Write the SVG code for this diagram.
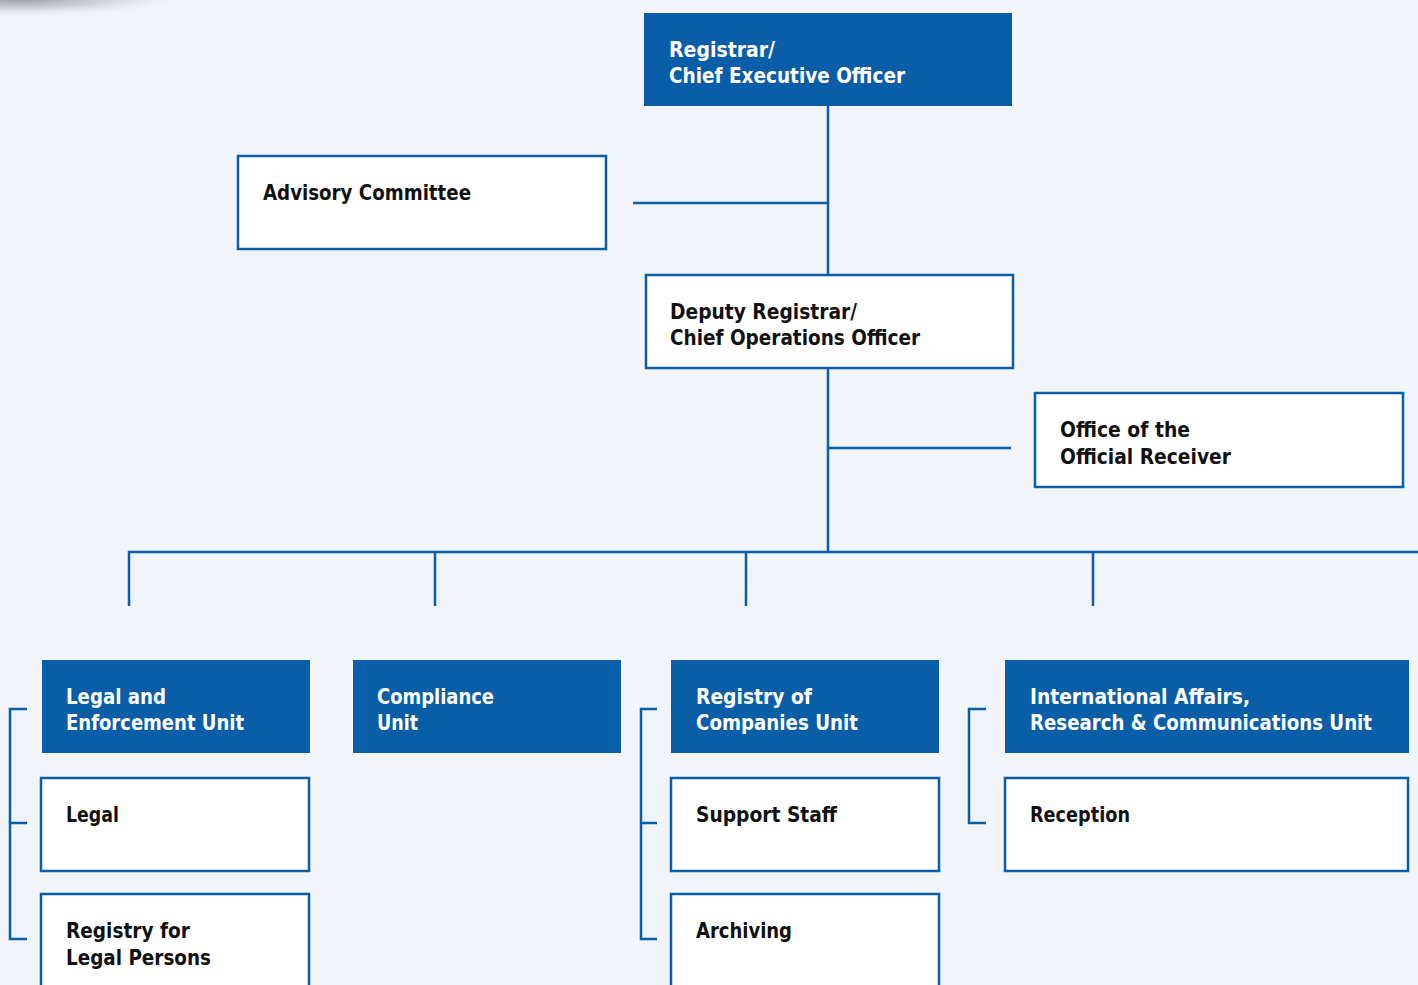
<svg xmlns="http://www.w3.org/2000/svg" width="1418" height="985" viewBox="0 0 1418 985">
<defs>
<radialGradient id="shadow" cx="0.5" cy="0.5" r="0.5">
<stop offset="0" stop-color="#8a8d92" stop-opacity="0.9"/>
<stop offset="0.5" stop-color="#a9acb0" stop-opacity="0.5"/>
<stop offset="1" stop-color="#f1f5f9" stop-opacity="0"/>
</radialGradient>
<style>
.bg{fill:#f1f5f9}
.blue{fill:#0a5ea8}
.white{fill:#ffffff;stroke:#0a5ea8;stroke-width:2.5}
.ln{stroke:#0a5ea8;stroke-width:2.5;fill:none}
.tw{fill:#ffffff;font-family:"Liberation Sans Narrow","DejaVu Sans Condensed","Liberation Sans",sans-serif;font-size:21px;font-weight:bold}
.tb{fill:#111111;font-family:"Liberation Sans Narrow","DejaVu Sans Condensed","Liberation Sans",sans-serif;font-size:21px;font-weight:bold}
</style>
</defs>
<rect class="bg" x="0" y="0" width="1418" height="985"/>
<ellipse cx="20" cy="-2" rx="170" ry="20" fill="url(#shadow)"/>

<g id="connectors">
<line class="ln" x1="828" y1="106" x2="828" y2="275"/>
<line class="ln" x1="633" y1="203" x2="829" y2="203"/>
<line class="ln" x1="828" y1="368" x2="828" y2="553"/>
<line class="ln" x1="828" y1="448" x2="1011" y2="448"/>
<line class="ln" x1="128" y1="552" x2="1418" y2="552"/>
<line class="ln" x1="129" y1="551" x2="129" y2="606"/>
<line class="ln" x1="435" y1="551" x2="435" y2="606"/>
<line class="ln" x1="746" y1="551" x2="746" y2="606"/>
<line class="ln" x1="1093" y1="551" x2="1093" y2="606"/>
<polyline class="ln" points="27,709 10,709 10,939 27,939"/>
<line class="ln" x1="10" y1="823" x2="27" y2="823"/>
<polyline class="ln" points="657,709 641,709 641,939 657,939"/>
<line class="ln" x1="641" y1="823" x2="657" y2="823"/>
<polyline class="ln" points="986,709 969,709 969,823 986,823"/>
</g>

<g id="ceo">
<rect class="blue" x="644" y="13" width="368" height="93"/>
<text class="tw" x="669" y="57" textLength="106" lengthAdjust="spacingAndGlyphs">Registrar/</text>
<text class="tw" x="669" y="83" textLength="236" lengthAdjust="spacingAndGlyphs">Chief Executive Officer</text>
</g>

<g id="advisory">
<rect class="white" x="238" y="156" width="368" height="93"/>
<text class="tb" x="263" y="200" textLength="208" lengthAdjust="spacingAndGlyphs">Advisory Committee</text>
</g>

<g id="deputy">
<rect class="white" x="646" y="275" width="367" height="93"/>
<text class="tb" x="670" y="319" textLength="187" lengthAdjust="spacingAndGlyphs">Deputy Registrar/</text>
<text class="tb" x="670" y="345" textLength="250" lengthAdjust="spacingAndGlyphs">Chief Operations Officer</text>
</g>

<g id="receiver">
<rect class="white" x="1035" y="393" width="368" height="94"/>
<text class="tb" x="1060" y="437" textLength="130" lengthAdjust="spacingAndGlyphs">Office of the</text>
<text class="tb" x="1060" y="464" textLength="171" lengthAdjust="spacingAndGlyphs">Official Receiver</text>
</g>

<g id="legal-enforcement">
<rect class="blue" x="42" y="660" width="268" height="93"/>
<text class="tw" x="66" y="704" textLength="100" lengthAdjust="spacingAndGlyphs">Legal and</text>
<text class="tw" x="66" y="730" textLength="178" lengthAdjust="spacingAndGlyphs">Enforcement Unit</text>
</g>

<g id="compliance">
<rect class="blue" x="353" y="660" width="268" height="93"/>
<text class="tw" x="377" y="704" textLength="117" lengthAdjust="spacingAndGlyphs">Compliance</text>
<text class="tw" x="377" y="730" textLength="41" lengthAdjust="spacingAndGlyphs">Unit</text>
</g>

<g id="registry-companies">
<rect class="blue" x="671" y="660" width="268" height="93"/>
<text class="tw" x="696" y="704" textLength="116" lengthAdjust="spacingAndGlyphs">Registry of</text>
<text class="tw" x="696" y="730" textLength="162" lengthAdjust="spacingAndGlyphs">Companies Unit</text>
</g>

<g id="international">
<rect class="blue" x="1005" y="660" width="404" height="93"/>
<text class="tw" x="1030" y="704" textLength="220" lengthAdjust="spacingAndGlyphs">International Affairs,</text>
<text class="tw" x="1030" y="730" textLength="342" lengthAdjust="spacingAndGlyphs">Research &amp; Communications Unit</text>
</g>

<g id="legal">
<rect class="white" x="41" y="778" width="268" height="93"/>
<text class="tb" x="66" y="822" textLength="53" lengthAdjust="spacingAndGlyphs">Legal</text>
</g>

<g id="registry-legal-persons">
<rect class="white" x="41" y="894" width="268" height="100"/>
<text class="tb" x="66" y="938" textLength="124" lengthAdjust="spacingAndGlyphs">Registry for</text>
<text class="tb" x="66" y="965" textLength="145" lengthAdjust="spacingAndGlyphs">Legal Persons</text>
</g>

<g id="support-staff">
<rect class="white" x="671" y="778" width="268" height="93"/>
<text class="tb" x="696" y="822" textLength="141" lengthAdjust="spacingAndGlyphs">Support Staff</text>
</g>

<g id="archiving">
<rect class="white" x="671" y="894" width="268" height="100"/>
<text class="tb" x="696" y="938" textLength="96" lengthAdjust="spacingAndGlyphs">Archiving</text>
</g>

<g id="reception">
<rect class="white" x="1005" y="778" width="403" height="93"/>
<text class="tb" x="1030" y="822" textLength="100" lengthAdjust="spacingAndGlyphs">Reception</text>
</g>
</svg>
